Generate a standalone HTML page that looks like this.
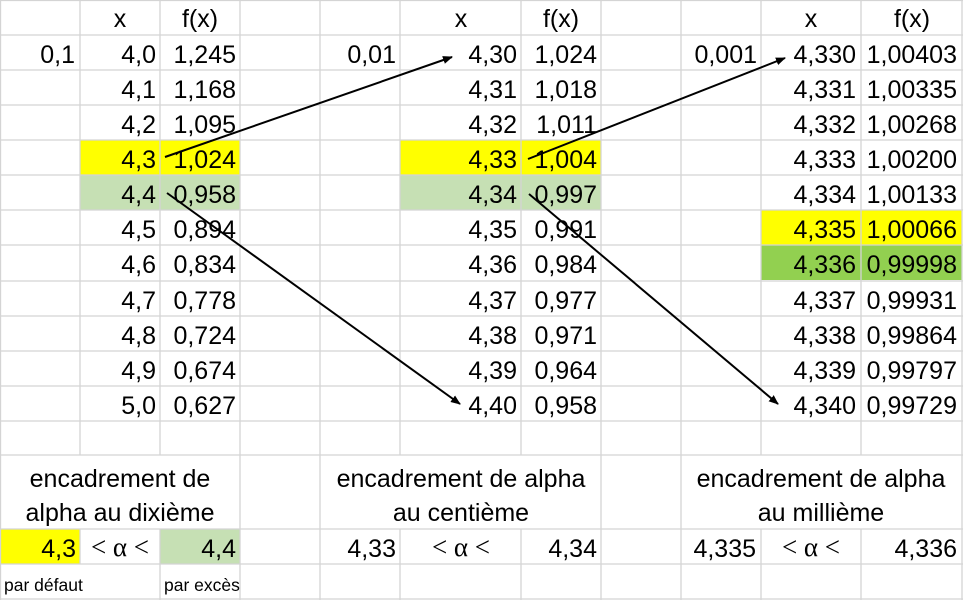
<!DOCTYPE html>
<html><head><meta charset="utf-8"><style>
html,body{margin:0;padding:0;background:#fff}
svg{display:block}
text{font-family:"Liberation Sans",sans-serif;font-size:25px;fill:#000}
.r{text-anchor:end}.c{text-anchor:middle}
.s{font-size:17.5px}
.a{font-family:"Liberation Serif",serif;font-size:27px}
</style></head><body>
<svg width="963" height="600" viewBox="0 0 963 600" xmlns="http://www.w3.org/2000/svg">
<defs><marker id="ah" markerWidth="10" markerHeight="8" refX="9" refY="4" orient="auto" markerUnits="userSpaceOnUse"><path d="M0,0 L10,4 L0,8 Z" fill="#000"/></marker></defs>
<rect x="80" y="140" width="160" height="35" fill="#ffff00"/>
<rect x="80" y="175" width="160" height="35" fill="#c6e0b4"/>
<rect x="400" y="140" width="201" height="35" fill="#ffff00"/>
<rect x="400" y="175" width="201" height="35" fill="#c6e0b4"/>
<rect x="761" y="210" width="201" height="35" fill="#ffff00"/>
<rect x="761" y="245" width="201" height="35" fill="#92d050"/>
<rect x="0" y="529" width="80" height="35" fill="#ffff00"/>
<rect x="160" y="529" width="80" height="35" fill="#c6e0b4"/>
<g stroke="#d4d4d4" stroke-width="1.3" fill="none">
<path d="M0 0.5H963 M0 35H963 M0 70H963 M0 105H963 M0 140H963 M0 175H963 M0 210H963 M0 245H963 M0 281H963 M0 316H963 M0 351H963 M0 386H963 M0 421H963 M0 455H963 M0 529H963 M0 564H963 M0 599H963"/>
<path d="M0.5 0V600 M240 0V600 M320 0V600 M601 0V600 M681 0V600 M962 0V600"/>
<path d="M80 0V455 M160 0V455 M400 0V455 M521 0V455 M761 0V455 M861 0V455"/>
<path d="M80 529V564 M160 529V600 M400 529V600 M521 529V600 M761 529V600 M861 529V600"/>
</g>
<g>
<text x="120" y="27" class="c">x</text><text x="200" y="27" class="c">f(x)</text>
<text x="461" y="27" class="c">x</text><text x="561" y="27" class="c">f(x)</text>
<text x="811" y="27" class="c">x</text><text x="912" y="27" class="c">f(x)</text>
<text x="75" y="63" class="r">0,1</text>
<text x="396" y="63" class="r">0,01</text>
<text x="757" y="63" class="r">0,001</text>
</g>
<g>
<text x="156" y="63" class="r">4,0</text><text x="236" y="63" class="r">1,245</text>
<text x="156" y="98" class="r">4,1</text><text x="236" y="98" class="r">1,168</text>
<text x="156" y="133" class="r">4,2</text><text x="236" y="133" class="r">1,095</text>
<text x="156" y="168" class="r">4,3</text><text x="236" y="168" class="r">1,024</text>
<text x="156" y="203" class="r">4,4</text><text x="236" y="203" class="r">0,958</text>
<text x="156" y="238" class="r">4,5</text><text x="236" y="238" class="r">0,894</text>
<text x="156" y="273" class="r">4,6</text><text x="236" y="273" class="r">0,834</text>
<text x="156" y="309" class="r">4,7</text><text x="236" y="309" class="r">0,778</text>
<text x="156" y="344" class="r">4,8</text><text x="236" y="344" class="r">0,724</text>
<text x="156" y="379" class="r">4,9</text><text x="236" y="379" class="r">0,674</text>
<text x="156" y="414" class="r">5,0</text><text x="236" y="414" class="r">0,627</text>

<text x="517" y="63" class="r">4,30</text><text x="597" y="63" class="r">1,024</text>
<text x="517" y="98" class="r">4,31</text><text x="597" y="98" class="r">1,018</text>
<text x="517" y="133" class="r">4,32</text><text x="597" y="133" class="r">1,011</text>
<text x="517" y="168" class="r">4,33</text><text x="597" y="168" class="r">1,004</text>
<text x="517" y="203" class="r">4,34</text><text x="597" y="203" class="r">0,997</text>
<text x="517" y="238" class="r">4,35</text><text x="597" y="238" class="r">0,991</text>
<text x="517" y="273" class="r">4,36</text><text x="597" y="273" class="r">0,984</text>
<text x="517" y="309" class="r">4,37</text><text x="597" y="309" class="r">0,977</text>
<text x="517" y="344" class="r">4,38</text><text x="597" y="344" class="r">0,971</text>
<text x="517" y="379" class="r">4,39</text><text x="597" y="379" class="r">0,964</text>
<text x="517" y="414" class="r">4,40</text><text x="597" y="414" class="r">0,958</text>

<text x="856" y="63" class="r">4,330</text><text x="957" y="63" class="r">1,00403</text>
<text x="856" y="98" class="r">4,331</text><text x="957" y="98" class="r">1,00335</text>
<text x="856" y="133" class="r">4,332</text><text x="957" y="133" class="r">1,00268</text>
<text x="856" y="168" class="r">4,333</text><text x="957" y="168" class="r">1,00200</text>
<text x="856" y="203" class="r">4,334</text><text x="957" y="203" class="r">1,00133</text>
<text x="856" y="238" class="r">4,335</text><text x="957" y="238" class="r">1,00066</text>
<text x="856" y="273" class="r">4,336</text><text x="957" y="273" class="r">0,99998</text>
<text x="856" y="309" class="r">4,337</text><text x="957" y="309" class="r">0,99931</text>
<text x="856" y="344" class="r">4,338</text><text x="957" y="344" class="r">0,99864</text>
<text x="856" y="379" class="r">4,339</text><text x="957" y="379" class="r">0,99797</text>
<text x="856" y="414" class="r">4,340</text><text x="957" y="414" class="r">0,99729</text>
</g>
<text x="120" y="487" class="c">encadrement de</text>
<text x="120" y="521" class="c">alpha au dixième</text>
<text x="461" y="487" class="c">encadrement de alpha</text>
<text x="461" y="521" class="c">au centième</text>
<text x="821" y="487" class="c">encadrement de alpha</text>
<text x="821" y="521" class="c">au millième</text>
<text x="76" y="557" class="r">4,3</text>
<text x="120" y="556" class="c a">&lt; α &lt;</text>
<text x="236" y="557" class="r">4,4</text>
<text x="396" y="557" class="r">4,33</text>
<text x="461" y="556" class="c a">&lt; α &lt;</text>
<text x="597" y="557" class="r">4,34</text>
<text x="756" y="557" class="r">4,335</text>
<text x="811" y="556" class="c a">&lt; α &lt;</text>
<text x="957" y="557" class="r">4,336</text>
<text x="4" y="591" class="s">par défaut</text>
<text x="164" y="591" class="s">par excès</text>
<g stroke="#000" stroke-width="2" fill="none">
<line x1="165" y1="157" x2="452" y2="57" marker-end="url(#ah)"/>
<line x1="167" y1="193" x2="460" y2="404" marker-end="url(#ah)"/>
<line x1="528" y1="159" x2="785" y2="58" marker-end="url(#ah)"/>
<line x1="529" y1="194" x2="778" y2="404" marker-end="url(#ah)"/>
</g>
</svg>
</body></html>
